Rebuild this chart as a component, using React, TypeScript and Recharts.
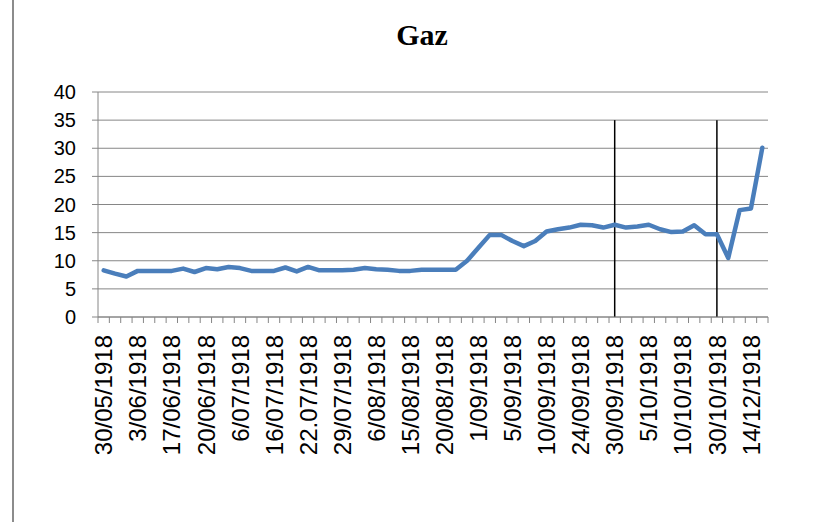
import React from 'react'
import {
  LineChart,
  Line,
  XAxis,
  YAxis,
  CartesianGrid,
  ReferenceLine
} from 'recharts'

// une étiquette toutes les 3 dates
const tickLabels = [
  '30/05/1918', '3/06/1918', '17/06/1918', '20/06/1918', '6/07/1918',
  '16/07/1918', '22.07/1918', '29/07/1918', '6/08/1918', '15/08/1918',
  '20/08/1918', '1/09/1918', '5/09/1918', '10/09/1918', '24/09/1918',
  '30/09/1918', '5/10/1918', '10/10/1918', '30/10/1918', '14/12/1918'
]

const gazValues = [
  8.3, 7.7, 7.2, 8.2, 8.2, 8.2, 8.2, 8.6, 8.0, 8.7,
  8.5, 8.9, 8.7, 8.2, 8.2, 8.2, 8.8, 8.1, 8.9, 8.3,
  8.3, 8.3, 8.4, 8.7, 8.5, 8.4, 8.2, 8.2, 8.4, 8.4,
  8.4, 8.4, 10.0, 12.3, 14.6, 14.6, 13.5, 12.6, 13.5, 15.2,
  15.6, 15.9, 16.4, 16.3, 15.9, 16.4, 15.9, 16.1, 16.4, 15.6,
  15.1, 15.2, 16.3, 14.7, 14.7, 10.5, 19.0, 19.3, 30.1
]

const yTicks = [0, 5, 10, 15, 20, 25, 30, 35, 40]

const markerDates = ['30/09/1918', '30/10/1918']
const markerTop = 35

const LABEL_STEP = 3
const count = gazValues.length

const data = gazValues.map((v, i) => ({ x: i + 0.5, gaz: v }))
const boundaryTicks = Array.from({ length: count + 1 }, (_, i) => i)
const labelTicks = tickLabels.map((_, k) => k * LABEL_STEP + 0.5)
const markerX = markerDates.map((d) => tickLabels.indexOf(d) * LABEL_STEP + 0.5)

const font = '"Liberation Sans", Arial, sans-serif'
const grey = '#868686'

const DateTick = ({ x, y, payload }: any) => {
  const idx = Math.round((payload.value - 0.5) / LABEL_STEP)
  return (
    <g transform={`translate(${x},${y})`}>
      <text
        transform="rotate(-90)"
        x={-4}
        dy="0.36em"
        textAnchor="end"
        fontSize={24}
        fontFamily={font}
        fill="#000"
      >
        {tickLabels[idx]}
      </text>
    </g>
  )
}

const App: React.FC = () => {
  return (
    <div style={{ position: 'absolute', left: 0, top: 0, width: 817, height: 532, background: '#fff' }}>
      <div style={{ position: 'absolute', left: 12, top: 0, width: 1.5, height: 522, background: '#8c8c8c' }} />
      <div
        style={{
          position: 'absolute',
          left: 0,
          width: 844,
          top: 18,
          textAlign: 'center',
          fontFamily: '"Liberation Serif", "DejaVu Serif", serif',
          fontWeight: 'bold',
          fontSize: 30
        }}
      >
        Gaz
      </div>
      <LineChart
        width={817}
        height={532}
        data={data}
        margin={{ top: 92, right: 49, left: 38, bottom: 109 }}
      >
        <CartesianGrid xAxisId={0} vertical={false} stroke={grey} strokeWidth={1} />
        <XAxis
          xAxisId={0}
          type="number"
          dataKey="x"
          domain={[0, count]}
          ticks={boundaryTicks}
          interval={0}
          tickSize={6}
          height={6}
          stroke={grey}
          tickFormatter={() => ''}
        />
        <XAxis
          xAxisId={1}
          type="number"
          dataKey="x"
          domain={[0, count]}
          ticks={labelTicks}
          interval={0}
          axisLine={false}
          tickLine={false}
          height={100}
          tick={<DateTick />}
        />
        <YAxis
          type="number"
          domain={[0, 40]}
          ticks={yTicks}
          interval={0}
          width={60}
          tickSize={6}
          tickMargin={16}
          stroke={grey}
          tick={{ fill: '#000', fontSize: 20, fontFamily: font }}
        />
        {markerX.map((mx) => (
          <ReferenceLine
            key={mx}
            xAxisId={0}
            segment={[{ x: mx, y: 0 }, { x: mx, y: markerTop }]}
            stroke="#000"
            strokeWidth={1.5}
          />
        ))}
        <Line
          xAxisId={0}
          type="linear"
          dataKey="gaz"
          stroke="#4A7EBB"
          strokeWidth={4.5}
          strokeLinejoin="round"
          strokeLinecap="round"
          dot={false}
          isAnimationActive={false}
        />
      </LineChart>
    </div>
  )
}

export default App
